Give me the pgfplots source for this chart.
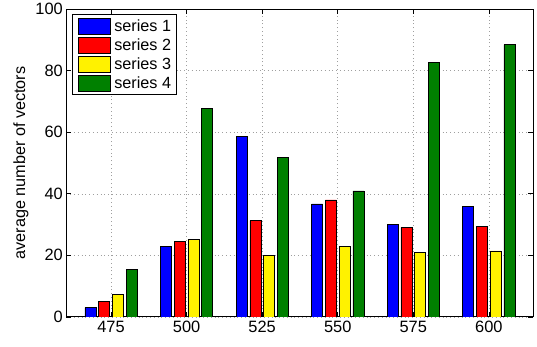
\documentclass[border=0pt]{standalone}
\usepackage{pgfplots}
\pgfplotsset{compat=1.18}
\usepackage{fontspec}
\setmainfont{Liberation Sans}

\definecolor{mgreen}{rgb}{0,0.5,0}

\begin{document}
\begin{tikzpicture}
\begin{axis}[
  at={(0,0)}, anchor=south west,
  scale only axis, width=466.7pt, height=307.7pt,
  xmin=460.2, xmax=614.6, ymin=0, ymax=100,
  xtick={475,500,...,600}, ytick={0,20,...,100},
  ybar, bar width=3.64,
  grid=major,
  grid style={gray!75, line width=0.5pt, dash pattern=on 0.8pt off 3pt},
  tick align=inside, major tick length=5pt,
  tick style={black, line width=0.6pt},
  axis line style={black, line width=0.9pt},
  ticklabel style={font=\fontsize{16.4}{19}\selectfont},
  /pgf/number format/assume math mode=true,
  /pgf/number format/set thousands separator={},
  xticklabel style={yshift=-0.5pt},
  ylabel={average number of vectors},
  every axis y label/.style={at={(axis description cs:-0.097,0.5)}, rotate=90, anchor=center, font=\fontsize{16.2}{19}\selectfont},
  legend cell align=left,
  legend image code/.code={%
    \draw[#1, draw=black, line width=0.6pt] (0pt,-7.85pt) rectangle (32pt,7.85pt);
    \path (36pt,0pt);},
  legend style={at={(axis description cs:0.0116,0.9838)}, anchor=north west,
    draw=black, line width=0.8pt, fill=white,
    font=\fontsize{16.2}{19}\selectfont,
    inner xsep=5.6pt, inner ysep=3.6pt, row sep=2.6pt, column sep=0pt,
    nodes={inner sep=0pt}},
]
% series 1
\addplot[fill=blue, draw=black, line width=0.6pt, bar shift=-6.82] coordinates {
  (475,3.0) (500,22.9) (525,58.6) (550,36.7) (575,30.1) (600,36.0)};
% series 2
\addplot[fill=red, draw=black, line width=0.6pt, bar shift=-2.27] coordinates {
  (475,5.1) (500,24.6) (525,31.3) (550,38.0) (575,29.1) (600,29.4)};
% series 3
\addplot[fill=yellow, draw=black, line width=0.6pt, bar shift=2.27] coordinates {
  (475,7.4) (500,25.2) (525,20.0) (550,22.9) (575,20.9) (600,21.4)};
% series 4
\addplot[fill=mgreen, draw=black, line width=0.6pt, bar shift=6.82] coordinates {
  (475,15.4) (500,67.7) (525,51.8) (550,40.9) (575,82.6) (600,88.5)};
\legend{series 1, series 2, series 3, series 4}
\end{axis}
\path[use as bounding box] (-66.3pt,-29.3pt) rectangle (470.7pt,316.7pt);
\end{tikzpicture}
\end{document}
